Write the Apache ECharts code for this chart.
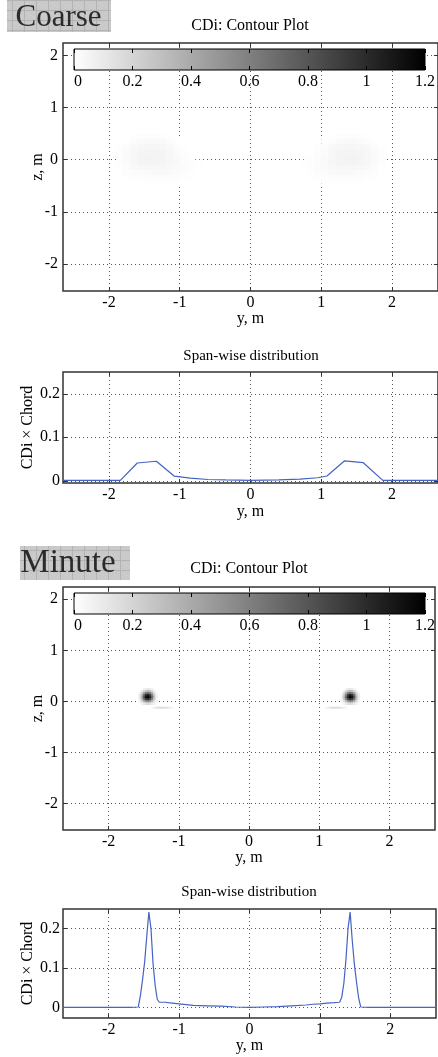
<!DOCTYPE html>
<html><head><meta charset="utf-8">
<script src="https://cdn.jsdelivr.net/npm/echarts@6/dist/echarts.min.js"></script>
<style>html,body{margin:0;padding:0;background:#fff}#c{width:438px;height:1057px}</style>
</head><body><div id="c"></div>
<script>
// ---------- tick labels ----------
const xTicks = [-2, -1, 0, 1, 2];
const zTicks = [-2, -1, 0, 1, 2];
const spanTicks = [0, 0.1, 0.2];
const cbTicks = [0, 0.2, 0.4, 0.6, 0.8, 1, 1.2];
const cbRange = [0, 1.2];
const yRange = [-2.65, 2.65];
const zRange = [-2.52, 2.24];
const coarseSpanRange = [-0.005, 0.25];
const minuteSpanRange = [-0.027, 0.25];

// ---------- Coarse contour (CDi) cells ----------
const coarseLeftY  = [-1.85, -1.75, -1.65, -1.55, -1.45, -1.35, -1.25, -1.15, -1.05, -0.95, -0.85, -0.75];
const coarseRightY = [0.75, 0.85, 0.95, 1.05, 1.15, 1.25, 1.35, 1.45, 1.55, 1.65, 1.75, 1.85];
const coarseZ = [0.45, 0.35, 0.25, 0.15, 0.05, -0.05, -0.15, -0.25, -0.35, -0.45];
const coarseLeftV = [
  [0, 0, 0.005, 0.01, 0.012, 0.012, 0.01, 0.005, 0, 0, 0, 0],
  [0, 0.006, 0.015, 0.022, 0.026, 0.026, 0.022, 0.015, 0.006, 0, 0, 0],
  [0.004, 0.014, 0.028, 0.038, 0.043, 0.043, 0.038, 0.028, 0.014, 0.004, 0, 0],
  [0.008, 0.02, 0.036, 0.048, 0.054, 0.054, 0.048, 0.036, 0.02, 0.008, 0, 0],
  [0.01, 0.022, 0.04, 0.052, 0.058, 0.058, 0.052, 0.04, 0.024, 0.012, 0.004, 0],
  [0.01, 0.02, 0.036, 0.046, 0.052, 0.052, 0.048, 0.038, 0.026, 0.016, 0.008, 0.003],
  [0.006, 0.015, 0.026, 0.034, 0.04, 0.04, 0.038, 0.032, 0.024, 0.017, 0.01, 0.004],
  [0.002, 0.008, 0.015, 0.02, 0.024, 0.026, 0.026, 0.022, 0.018, 0.013, 0.007, 0.002],
  [0, 0.003, 0.007, 0.01, 0.013, 0.015, 0.015, 0.014, 0.011, 0.007, 0.003, 0],
  [0, 0, 0, 0.003, 0.005, 0.006, 0.006, 0.005, 0.003, 0, 0, 0]
];
const coarseRightV = [
  [0, 0, 0, 0, 0.005, 0.01, 0.012, 0.012, 0.01, 0.005, 0, 0],
  [0, 0, 0, 0.006, 0.015, 0.022, 0.026, 0.026, 0.022, 0.015, 0.006, 0],
  [0, 0, 0.004, 0.014, 0.028, 0.038, 0.043, 0.043, 0.038, 0.028, 0.014, 0.004],
  [0, 0, 0.008, 0.02, 0.036, 0.048, 0.054, 0.054, 0.048, 0.036, 0.02, 0.008],
  [0, 0.004, 0.012, 0.024, 0.04, 0.052, 0.058, 0.058, 0.052, 0.04, 0.022, 0.01],
  [0.003, 0.008, 0.016, 0.026, 0.038, 0.048, 0.052, 0.052, 0.046, 0.036, 0.02, 0.01],
  [0.004, 0.01, 0.017, 0.024, 0.032, 0.038, 0.04, 0.04, 0.034, 0.026, 0.015, 0.006],
  [0.002, 0.007, 0.013, 0.018, 0.022, 0.026, 0.026, 0.024, 0.02, 0.015, 0.008, 0.002],
  [0, 0.003, 0.007, 0.011, 0.014, 0.015, 0.015, 0.013, 0.01, 0.007, 0.003, 0],
  [0, 0, 0, 0.003, 0.005, 0.006, 0.006, 0.005, 0.003, 0, 0, 0]
];

// ---------- Minute contour (CDi) cells ----------
const minuteLeftY  = [-1.56, -1.53, -1.50, -1.47, -1.44, -1.41, -1.38, -1.35, -1.32];
const minuteRightY = [1.32, 1.35, 1.38, 1.41, 1.44, 1.47, 1.50, 1.53, 1.56];
const minuteZ = [0.24, 0.20, 0.16, 0.12, 0.08, 0.04, 0.00, -0.04];
const minuteLeftV = [
  [0, 0, 0.05, 0.1, 0.12, 0.1, 0.05, 0, 0],
  [0, 0.08, 0.2, 0.3, 0.35, 0.3, 0.18, 0.06, 0],
  [0.05, 0.2, 0.45, 0.65, 0.72, 0.62, 0.4, 0.15, 0.03],
  [0.1, 0.3, 0.7, 1.0, 1.1, 0.95, 0.6, 0.25, 0.05],
  [0.1, 0.35, 0.8, 1.15, 1.2, 1.05, 0.7, 0.3, 0.06],
  [0.08, 0.3, 0.65, 0.9, 0.95, 0.85, 0.55, 0.25, 0.05],
  [0.04, 0.15, 0.35, 0.5, 0.55, 0.45, 0.3, 0.12, 0.03],
  [0, 0.05, 0.1, 0.15, 0.18, 0.15, 0.1, 0.05, 0]
];
const minuteRightV = [
  [0, 0, 0.05, 0.1, 0.12, 0.1, 0.05, 0, 0],
  [0, 0.06, 0.18, 0.3, 0.35, 0.3, 0.2, 0.08, 0],
  [0.03, 0.15, 0.4, 0.62, 0.72, 0.65, 0.45, 0.2, 0.05],
  [0.05, 0.25, 0.6, 0.95, 1.1, 1.0, 0.7, 0.3, 0.1],
  [0.06, 0.3, 0.7, 1.05, 1.2, 1.15, 0.8, 0.35, 0.1],
  [0.05, 0.25, 0.55, 0.85, 0.95, 0.9, 0.65, 0.3, 0.08],
  [0.03, 0.12, 0.3, 0.45, 0.55, 0.5, 0.35, 0.15, 0.04],
  [0, 0.05, 0.1, 0.15, 0.18, 0.15, 0.1, 0.05, 0]
];
const minuteStreakLeftY  = [-1.37, -1.33, -1.29, -1.25, -1.21, -1.17, -1.13, -1.09];
const minuteStreakRightY = [1.09, 1.13, 1.17, 1.21, 1.25, 1.29, 1.33, 1.37];
const minuteStreakZ = [-0.12];
const minuteStreakLeftV  = [[0.05, 0.1, 0.14, 0.15, 0.15, 0.13, 0.09, 0.04]];
const minuteStreakRightV = [[0.04, 0.09, 0.13, 0.15, 0.15, 0.14, 0.1, 0.05]];

// ---------- Span-wise distribution ----------
const coarseSpanY = [-2.65, -1.84, -1.6, -1.33, -1.08, -0.85, -0.6, -0.35, 0, 0.4, 0.7, 0.95, 1.08, 1.33, 1.59, 1.87, 2.65];
const coarseSpanV = [0.001, 0.001, 0.041, 0.045, 0.011, 0.006, 0.003, 0.002, 0.001, 0.002, 0.004, 0.007, 0.011, 0.046, 0.042, 0.001, 0.001];
const minuteSpanY = [-2.65, -1.7, -1.58, -1.55, -1.52, -1.49, -1.46, -1.43, -1.40, -1.37, -1.34, -1.31, -1.28, -1.2, -1.1, -1.0, -0.9, -0.8, -0.6, -0.4, -0.2, 0,
  0.2, 0.4, 0.6, 0.8, 0.9, 1.0, 1.1, 1.2, 1.28, 1.31, 1.34, 1.37, 1.40, 1.43, 1.46, 1.49, 1.52, 1.55, 1.58, 1.7, 2.65];
const minuteSpanV = [0, 0, 0.001, 0.03, 0.07, 0.115, 0.18, 0.242, 0.2, 0.11, 0.055, 0.02, 0.013, 0.013, 0.011, 0.009, 0.007, 0.005, 0.004, 0.003, 0.001, 0,
  0.001, 0.002, 0.004, 0.006, 0.008, 0.009, 0.011, 0.012, 0.013, 0.025, 0.06, 0.12, 0.2, 0.242, 0.17, 0.11, 0.065, 0.025, 0.001, 0, 0];

// ---------- helpers ----------
const FONT = 'Liberation Serif';
const TXT = '#000';
function cells(ys, zs, vals) {
  const out = [];
  zs.forEach((z, r) => ys.forEach((y, c) => { if (vals[r][c] > 0) out.push([y, z, vals[r][c]]); }));
  return out;
}
function zip(a, b) { return a.map((v, i) => [v, b[i]]); }
function grayOf(v) {
  const g = Math.round(255 * (1 - Math.min(v, cbRange[1]) / cbRange[1]));
  return 'rgb(' + g + ',' + g + ',' + g + ')';
}

const grids = [], xAxes = [], yAxes = [], series = [];
const tickStyle = { color: '#333', width: 1 };
const gridLine = { show: true, lineStyle: { color: '#555', width: 1, type: [1, 3] } };
const labelStyle = { fontFamily: FONT, fontSize: 16, color: TXT };
const noLine = { show: false, onZero: false };

function addPlot(grid, xr, yr, xt, yt, xName, yName, xGap, yGap, yLabelMargin) {
  const gi = grids.push(Object.assign({ show: true, borderColor: '#333', borderWidth: 1.5 }, grid)) - 1;
  const xi = xAxes.length;
  xAxes.push({ gridIndex: gi, type: 'value', min: xr[0], max: xr[1], position: 'bottom',
    axisLine: noLine,
    axisTick: { show: true, inside: true, length: 4, customValues: xt, lineStyle: tickStyle },
    axisLabel: Object.assign({ show: true, customValues: xt, margin: 4 }, labelStyle),
    splitLine: gridLine,
    name: xName, nameLocation: 'middle', nameGap: xGap, nameMoveOverlap: false, nameTextStyle: labelStyle });
  xAxes.push({ gridIndex: gi, type: 'value', min: xr[0], max: xr[1], position: 'top',
    axisLine: noLine,
    axisTick: { show: true, inside: true, length: 4, customValues: xt, lineStyle: tickStyle },
    axisLabel: { show: false }, splitLine: { show: false } });
  const yi = yAxes.length;
  yAxes.push({ gridIndex: gi, type: 'value', min: yr[0], max: yr[1], position: 'left',
    axisLine: noLine,
    axisTick: { show: true, inside: true, length: 4, customValues: yt, lineStyle: tickStyle },
    axisLabel: Object.assign({ show: true, customValues: yt, margin: yLabelMargin }, labelStyle),
    splitLine: gridLine,
    name: yName, nameLocation: 'middle', nameGap: yGap, nameMoveOverlap: false, nameTextStyle: labelStyle });
  yAxes.push({ gridIndex: gi, type: 'value', min: yr[0], max: yr[1], position: 'right',
    axisLine: noLine,
    axisTick: { show: true, inside: true, length: 4, customValues: yt, lineStyle: tickStyle },
    axisLabel: { show: false }, splitLine: { show: false } });
  return { xi, yi };
}

function addColorbar(grid) {
  const gi = grids.push(Object.assign({ show: false }, grid)) - 1;
  const xi = xAxes.length;
  xAxes.push({ gridIndex: gi, type: 'value', min: cbRange[0], max: cbRange[1], position: 'bottom', z: 5,
    axisLine: noLine,
    axisTick: { show: true, inside: true, length: 4, customValues: cbTicks, lineStyle: { color: '#000' } },
    axisLabel: Object.assign({ show: true, customValues: cbTicks, margin: 4, alignMinLabel: 'left' }, labelStyle),
    splitLine: { show: false } });
  xAxes.push({ gridIndex: gi, type: 'value', min: cbRange[0], max: cbRange[1], position: 'top', z: 5,
    axisLine: noLine,
    axisTick: { show: true, inside: true, length: 4, customValues: cbTicks, lineStyle: { color: '#000' } },
    axisLabel: { show: false }, splitLine: { show: false } });
  const yi = yAxes.length;
  yAxes.push({ gridIndex: gi, type: 'value', min: 0, max: 1, show: false, axisLine: noLine });
  series.push({ type: 'custom', xAxisIndex: xi, yAxisIndex: yi, z: 3, silent: true,
    data: [cbRange],
    renderItem: function (p, api) {
      const a = api.coord([api.value(0), 1]);
      const b = api.coord([api.value(1), 0]);
      return { type: 'rect', shape: { x: a[0], y: a[1], width: b[0] - a[0], height: b[1] - a[1] },
        style: { fill: new echarts.graphic.LinearGradient(0, 0, 1, 0, [{ offset: 0, color: '#ffffff' }, { offset: 1, color: '#000000' }]),
          stroke: '#000', lineWidth: 1 } };
    } });
}

function addCells(ax, data, cell) {
  series.push({ type: 'custom', xAxisIndex: ax.xi, yAxisIndex: ax.yi, z: 2, silent: true, clip: true,
    data: data,
    renderItem: function (p, api) {
      const pt = api.coord([api.value(0) - cell[0] / 2, api.value(1) + cell[1] / 2]);
      const s = api.size([cell[0], cell[1]]);
      return { type: 'rect', shape: { x: pt[0], y: pt[1], width: s[0] + 0.6, height: s[1] + 0.6 },
        style: { fill: grayOf(api.value(2)) } };
    } });
}

function addLine(ax, ys, vs) {
  series.push({ type: 'line', xAxisIndex: ax.xi, yAxisIndex: ax.yi, data: zip(ys, vs),
    showSymbol: false, symbol: 'none', z: 3,
    lineStyle: { color: '#4563c2', width: 1.2 } });
}

// ---------- Coarse ----------
const cC = addPlot({ left: 63, top: 43, width: 377, height: 248 }, yRange, zRange, xTicks, zTicks, 'y, m', 'z, m', 20, 17, 5);
addCells(cC, cells(coarseLeftY, coarseZ, coarseLeftV), [0.1, 0.1]);
addCells(cC, cells(coarseRightY, coarseZ, coarseRightV), [0.1, 0.1]);
addColorbar({ left: 74, top: 49, width: 357, height: 21 });
const cS = addPlot({ left: 63, top: 372, width: 377, height: 111 }, yRange, coarseSpanRange, xTicks, spanTicks, 'y, m', 'CDi × Chord', 21, 27, 3);
addLine(cS, coarseSpanY, coarseSpanV);

// ---------- Minute ----------
const mC = addPlot({ left: 63, top: 587, width: 372, height: 243 }, yRange, zRange, xTicks, zTicks, 'y, m', 'z, m', 20, 17, 5);
addCells(mC, cells(minuteLeftY, minuteZ, minuteLeftV), [0.03, 0.04]);
addCells(mC, cells(minuteRightY, minuteZ, minuteRightV), [0.03, 0.04]);
addCells(mC, cells(minuteStreakLeftY, minuteStreakZ, minuteStreakLeftV), [0.04, 0.03]);
addCells(mC, cells(minuteStreakRightY, minuteStreakZ, minuteStreakRightV), [0.04, 0.03]);
addColorbar({ left: 74, top: 593, width: 352, height: 21 });
const mS = addPlot({ left: 63, top: 909, width: 373, height: 109 }, yRange, minuteSpanRange, xTicks, spanTicks, 'y, m', 'CDi × Chord', 20, 27, 3);
addLine(mS, minuteSpanY, minuteSpanV);

// ---------- badges and titles ----------
function makePattern() {
  const c = document.createElement('canvas'); c.width = 12; c.height = 10;
  const x = c.getContext('2d');
  x.fillStyle = '#c9c9c9'; x.fillRect(0, 0, 12, 10);
  x.fillStyle = '#b3b3b3'; x.fillRect(0, 0, 1, 10); x.fillRect(0, 0, 12, 1);
  x.fillStyle = '#d2d2d2'; x.fillRect(6, 5, 1, 1); x.fillRect(3, 3, 1, 1); x.fillRect(9, 7, 1, 1);
  return c;
}
const pat = makePattern();
function txt(x, y, s, size, color) {
  return { type: 'text', x: x, y: y, z: 10, silent: true,
    style: { text: s, fontFamily: FONT, fontSize: size, fill: color, align: 'center', verticalAlign: 'middle',
      textAlign: 'center', textVerticalAlign: 'middle' } };
}
const graphics = [
  { type: 'rect', shape: { x: 7, y: 0, width: 104, height: 32 }, style: { fill: { image: pat, repeat: 'repeat' } }, z: 9, silent: true },
  txt(58.5, 18, 'Coarse', 31, '#2b2b2b'),
  txt(250, 26, 'CDi: Contour Plot', 16, TXT),
  txt(251, 356, 'Span-wise distribution', 15, TXT),
  { type: 'rect', shape: { x: 20, y: 546, width: 110, height: 34 }, style: { fill: { image: pat, repeat: 'repeat' } }, z: 9, silent: true },
  txt(68, 563, 'Minute', 33, '#2b2b2b'),
  txt(249, 569, 'CDi: Contour Plot', 16, TXT),
  txt(249, 892, 'Span-wise distribution', 15, TXT)
];

const chart = echarts.init(document.getElementById('c'), null, { renderer: 'canvas' });
chart.setOption({
  animation: false,
  backgroundColor: '#ffffff',
  grid: grids, xAxis: xAxes, yAxis: yAxes, series: series,
  graphic: graphics
});
</script>
</body></html>
